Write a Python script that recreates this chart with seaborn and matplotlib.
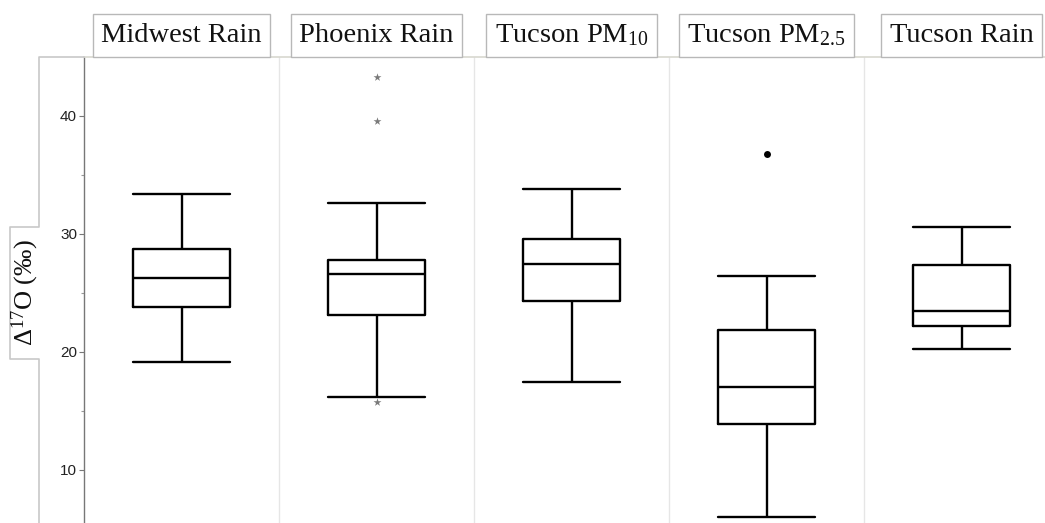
import matplotlib
matplotlib.use("Agg")
import matplotlib.pyplot as plt
import matplotlib.transforms as mtransforms
from matplotlib.lines import Line2D
import seaborn as sns
import pandas as pd

# ---- data ----
categories = ["Midwest Rain", "Phoenix Rain", "Tucson PM10", "Tucson PM2.5", "Tucson Rain"]
header_labels = ["Midwest Rain", "Phoenix Rain", "Tucson PM$_{10}$", "Tucson PM$_{2.5}$", "Tucson Rain"]
whisker_low = [19.18, 16.16, 17.48, 6.05, 20.28]
q1 = [23.84, 23.11, 24.35, 13.90, 22.24]
median = [26.30, 26.61, 27.43, 17.06, 23.50]
q3 = [28.70, 27.77, 29.58, 21.86, 27.37]
whisker_high = [33.42, 32.65, 33.81, 26.44, 30.58]
star_outlier_group = ["Phoenix Rain", "Phoenix Rain", "Phoenix Rain"]
star_outlier_value = [43.3, 39.58, 15.74]
dot_outlier_group = ["Tucson PM2.5"]
dot_outlier_value = [36.8]
yticks = [10, 20, 30, 40]
minor_yticks = [15, 25, 35]
ylabel = "Δ$^{17}$O (‰)"

# ---- build long table: five-number summary per group ----
rows = []
for c, a, b, m, d, e in zip(categories, whisker_low, q1, median, q3, whisker_high):
    for v in (a, b, m, d, e):
        rows.append({"group": c, "value": v})
box_df = pd.DataFrame(rows)
star_df = pd.DataFrame({"group": star_outlier_group, "value": star_outlier_value})
dot_df = pd.DataFrame({"group": dot_outlier_group, "value": dot_outlier_value})

sns.set_style("white")
plt.rcParams["font.family"] = ["Liberation Sans", "DejaVu Sans"]
plt.rcParams["mathtext.fontset"] = "custom"
plt.rcParams["mathtext.rm"] = "Liberation Serif"
plt.rcParams["mathtext.it"] = "Liberation Serif:italic"
plt.rcParams["mathtext.bf"] = "Liberation Serif:bold"

W, H = 1045, 523
fig = plt.figure(figsize=(W / 100, H / 100), dpi=100)
ax_left, ax_top, ax_bottom = 84, 57, 523
panel_w = 195
ax = fig.add_axes([ax_left / W, 0, 5 * panel_w / W, (ax_bottom - ax_top) / H])

sns.boxplot(data=box_df, x="group", y="value", order=categories, whis=(0, 100),
            width=0.5, fill=False, color="black", linewidth=1.7,
            capwidths=0.5, showfliers=False, ax=ax)
sns.stripplot(data=star_df, x="group", y="value", order=categories, jitter=False,
              marker="*", color="#7a7a7a", size=6, ax=ax)
sns.stripplot(data=dot_df, x="group", y="value", order=categories, jitter=False,
              marker="o", color="black", size=5, ax=ax)

ax.set_xlim(-0.5, 4.5)
ax.set_ylim(5.5, 45.0)
ax.set_xlabel("")
ax.set_ylabel("")
ax.set_xticks([])
ax.set_yticks(yticks)
ax.set_yticks(minor_yticks, minor=True)
ax.tick_params(axis="y", which="major", length=3.5, width=0.8, color="#777777",
               labelsize=11, labelcolor="#222222", pad=1.5, left=True)
ax.tick_params(axis="y", which="minor", length=2, width=0.8, color="#999999", left=True)

for s in ("right", "bottom"):
    ax.spines[s].set_visible(False)
ax.spines["left"].set_color("#777777")
ax.spines["left"].set_linewidth(1.0)
ax.spines["top"].set_color("#d8d8d0")
ax.spines["top"].set_linewidth(1.2)

for xb in [0.5, 1.5, 2.5, 3.5]:
    ax.axvline(xb, color="#e6e6e6", lw=1.0, zorder=0)

# header boxes (strip labels)
trans = mtransforms.blended_transform_factory(ax.transData, ax.transAxes)
hy = 1 + (ax_top - 35.5) / (ax_bottom - ax_top)
for i, lab in enumerate(header_labels):
    ax.text(i, hy, lab, transform=trans, ha="center", va="center",
            fontsize=20.5, family="Liberation Serif", color="#111111",
            bbox=dict(boxstyle="square,pad=0.3", facecolor="white",
                      edgecolor="#b8b8b8", linewidth=1.0),
            clip_on=False)

# left outline with y-label tab
px = lambda x: x / W
py = lambda y: 1 - y / H
xs = [84, 39, 39, 10, 10, 39, 39]
ys = [57, 57, 227, 227, 359, 359, 523]
fig.add_artist(Line2D([px(x) for x in xs], [py(y) for y in ys],
                      color="#c8c8c8", lw=1.2))
fig.text(px(25), py(293), ylabel, rotation=90, ha="center", va="center",
         fontsize=19, family="Liberation Serif", color="#111111")

fig.savefig("out.png", dpi=100)
